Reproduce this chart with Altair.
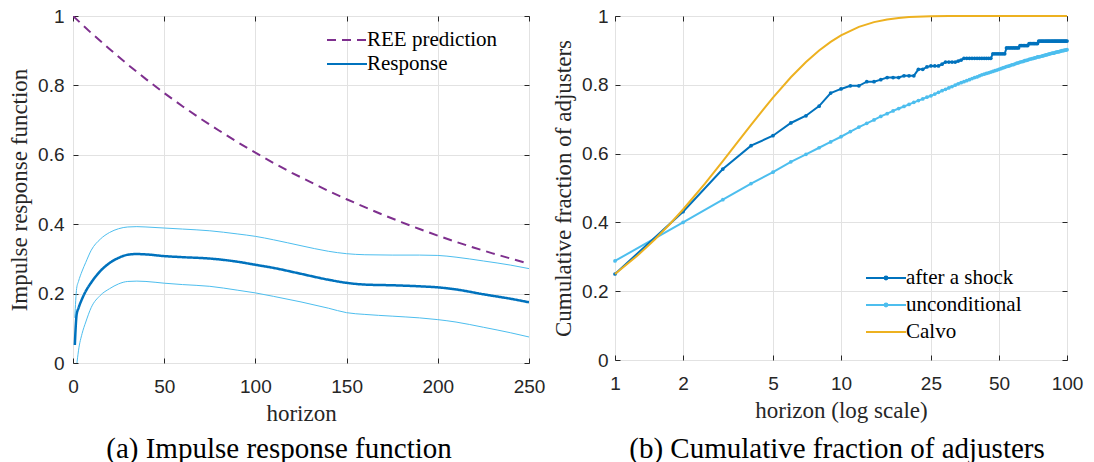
import altair as alt
import pandas as pd

# ---------------- data: panel (a) ----------------
h_ree = [0, 10, 20, 30, 40, 50, 60, 70, 80, 90, 100, 110, 120, 130, 140, 150,
         160, 170, 180, 190, 200, 210, 220, 230, 240, 250]
ree = [1.0, 0.951, 0.905, 0.860, 0.818, 0.778, 0.740, 0.704, 0.670, 0.637, 0.606,
       0.576, 0.548, 0.522, 0.496, 0.472, 0.449, 0.427, 0.406, 0.386, 0.367,
       0.349, 0.332, 0.316, 0.301, 0.286]

h_irf = [1, 2, 3, 5, 7, 10, 15, 20, 25, 30, 35, 40, 50, 60, 75, 90, 100, 110,
         125, 140, 150, 160, 175, 190, 200, 210, 225, 240, 250]
resp = [0.052, 0.140, 0.158, 0.185, 0.207, 0.232, 0.265, 0.288, 0.303, 0.312,
        0.314, 0.313, 0.308, 0.305, 0.301, 0.292, 0.283, 0.274, 0.257, 0.240,
        0.231, 0.226, 0.224, 0.221, 0.218, 0.212, 0.198, 0.185, 0.175]
upper = [0.130, 0.215, 0.235, 0.265, 0.290, 0.325, 0.357, 0.376, 0.387, 0.392,
         0.393, 0.392, 0.389, 0.386, 0.381, 0.372, 0.365, 0.355, 0.338, 0.322,
         0.315, 0.312, 0.311, 0.311, 0.310, 0.305, 0.294, 0.282, 0.272]
lower = [-0.080, -0.010, 0.035, 0.085, 0.118, 0.160, 0.195, 0.214, 0.228, 0.235,
         0.236, 0.235, 0.230, 0.226, 0.221, 0.210, 0.202, 0.192, 0.176, 0.158,
         0.145, 0.140, 0.135, 0.130, 0.125, 0.118, 0.103, 0.087, 0.075]

# ---------------- data: panel (b) ----------------
h_int = list(range(1, 101))
after = [0.250, 0.431, 0.555, 0.623, 0.652, 0.689, 0.710, 0.738, 0.776, 0.788,
         0.797, 0.797, 0.809, 0.809, 0.815, 0.821, 0.821, 0.821, 0.826, 0.826,
         0.826, 0.845, 0.845, 0.852, 0.855, 0.855, 0.855, 0.860, 0.866, 0.866,
         0.866, 0.866, 0.869, 0.872, 0.877, 0.877, 0.877, 0.877, 0.877, 0.877,
         0.877, 0.877, 0.877, 0.877, 0.877, 0.877, 0.890, 0.890, 0.890, 0.890,
         0.890, 0.890, 0.890, 0.907, 0.907, 0.907, 0.907, 0.907, 0.907, 0.907,
         0.907, 0.914, 0.914, 0.914, 0.914, 0.914, 0.914, 0.920, 0.920, 0.920,
         0.920, 0.920, 0.920, 0.920, 0.927, 0.927, 0.927, 0.927, 0.927, 0.927,
         0.927, 0.927, 0.927, 0.927, 0.927, 0.927, 0.927, 0.927, 0.927, 0.927,
         0.927, 0.927, 0.927, 0.927, 0.927, 0.927, 0.927, 0.927, 0.927, 0.927]
uncond = [0.288, 0.400, 0.466, 0.513, 0.546, 0.576, 0.598, 0.617, 0.634, 0.649,
          0.664, 0.677, 0.688, 0.698, 0.708, 0.716, 0.724, 0.731, 0.737, 0.743,
          0.749, 0.754, 0.759, 0.764, 0.768, 0.773, 0.778, 0.783, 0.787, 0.791,
          0.795, 0.799, 0.803, 0.806, 0.809, 0.812, 0.815, 0.818, 0.821, 0.823,
          0.826, 0.829, 0.831, 0.833, 0.835, 0.837, 0.839, 0.841, 0.843, 0.845,
          0.847, 0.849, 0.851, 0.853, 0.854, 0.856, 0.858, 0.859, 0.861, 0.863,
          0.864, 0.866, 0.867, 0.868, 0.870, 0.871, 0.872, 0.874, 0.875, 0.876,
          0.877, 0.878, 0.879, 0.881, 0.881, 0.882, 0.883, 0.884, 0.885, 0.886,
          0.887, 0.888, 0.889, 0.890, 0.891, 0.892, 0.892, 0.893, 0.894, 0.895,
          0.896, 0.896, 0.897, 0.898, 0.899, 0.899, 0.900, 0.901, 0.901, 0.902]
h_calvo = [1, 1.25, 1.5, 1.75, 2, 2.5, 3, 3.5, 4, 4.5, 5, 6, 7, 8, 9, 10, 12, 14,
           16, 18, 20, 25, 30, 40, 60, 100]
calvo = [0.250, 0.302, 0.3505, 0.3955, 0.4375, 0.5129, 0.5781, 0.6346, 0.6836,
         0.7260, 0.7627, 0.8220, 0.8665, 0.8999, 0.9249, 0.9437, 0.9683, 0.9822,
         0.9900, 0.9944, 0.9968, 0.9992, 0.9998, 1.0, 1.0, 1.0]

x_ticks_a = [0, 50, 100, 150, 200, 250]
x_ticks_b = [1, 2, 5, 10, 25, 50, 100]
y_ticks = [0, 0.2, 0.4, 0.6, 0.8, 1]

L_SERIES = ["REE prediction", "Response"]
R_SERIES = ["after a shock", "unconditional", "Calvo"]

# ---------------- style ----------------
SERIF = "Liberation Serif"
SANS = "Liberation Sans"
AX = "#262626"
GRID = "#e2e2e2"
BLUE = "#0072BD"
LBLUE = "#4DBEEE"
ORANGE = "#EDB120"
PURPLE = "#7E2F8E"

df_ree = pd.DataFrame({"h": h_ree, "value": ree, "series": "REE prediction"})
df_resp = pd.DataFrame({"h": h_irf, "value": resp, "series": "Response"})
df_band = pd.concat([
    pd.DataFrame({"h": h_irf, "value": upper, "band": "upper"}),
    pd.DataFrame({"h": h_irf, "value": lower, "band": "lower"}),
])

df_after = pd.DataFrame({"h": h_int, "value": after, "series": "after a shock"})
df_unc = pd.DataFrame({"h": h_int, "value": uncond, "series": "unconditional"})
df_calvo = pd.DataFrame({"h": h_calvo, "value": calvo, "series": "Calvo"})

BASE = dict(labelFontSize=19, labelColor=AX, tickColor=AX,
            titleFontSize=23, titleFontWeight="normal",
            titleColor=AX, gridColor=GRID, gridWidth=1)


def main_x(values, title, scale):
    return alt.X("h:Q", scale=scale, title=title,
                 axis=alt.Axis(values=values, format="d", orient="bottom", offset=-5,
                               tickSize=5, domain=False, grid=True, labelPadding=14,
                               titlePadding=6, labelFlush=False, labelOverlap=False,
                               labelFont=SANS))


def main_y(title, pad):
    return alt.Y("value:Q", scale=alt.Scale(domain=[0, 1], nice=False), title=title,
                 axis=alt.Axis(values=y_ticks, format="~g", orient="left", offset=-5,
                               tickSize=5, domain=False, grid=True, labelPadding=pad,
                               titlePadding=6, labelFlush=False, labelFont=SANS))


def tick_x(values, scale):
    return alt.X("h:Q", scale=scale, title=None,
                 axis=alt.Axis(values=values, orient="top", offset=-5, tickSize=5,
                               labels=False, domain=False, grid=False, tickColor=AX))


def tick_y():
    return alt.Y("value:Q", scale=alt.Scale(domain=[0, 1], nice=False), title=None,
                 axis=alt.Axis(values=y_ticks, orient="right", offset=-5, tickSize=5,
                               labels=False, domain=False, grid=False, tickColor=AX))


# ---------------- panel (a) ----------------
xs_a = alt.Scale(domain=[0, 250], nice=False)
P_LINE = "M-2,0L2,0"
P_DOT = "M-2,0L2,0M-0.14,0A0.14,0.14,0,1,0,0.14,0A0.14,0.14,0,1,0,-0.14,0"
leg_a = alt.Legend(title=None, orient="none", legendX=263, legendY=13,
                   symbolType=P_LINE, symbolSize=400, symbolStrokeWidth=2,
                   labelFontSize=21, labelColor="black",
                   labelOffset=9, rowPadding=3, padding=0, labelLimit=300)
col_a = alt.Color("series:N", scale=alt.Scale(domain=L_SERIES, range=[PURPLE, BLUE]),
                  legend=leg_a)
dash_a = alt.StrokeDash("series:N",
                        scale=alt.Scale(domain=L_SERIES, range=[[9, 6], [1, 0]]),
                        legend=leg_a)

bands = alt.Chart(df_band).mark_line(color=LBLUE, strokeWidth=1, clip=True,
                                     interpolate="monotone").encode(
    x=tick_x(x_ticks_a, xs_a), y=tick_y(), detail="band:N")
ree_line = alt.Chart(df_ree).mark_line(strokeWidth=2, clip=True).encode(
    x=main_x(x_ticks_a, "horizon", xs_a),
    y=main_y("Impulse response function", 9),
    color=col_a, strokeDash=dash_a)
resp_line = alt.Chart(df_resp).mark_line(strokeWidth=2.5, clip=True,
                                         interpolate="monotone").encode(
    x=alt.X("h:Q", scale=xs_a, axis=None),
    y=alt.Y("value:Q", axis=None),
    color=col_a, strokeDash=dash_a)

panel_a = alt.layer(bands, ree_line, resp_line).resolve_axis(
    x="independent", y="independent").properties(
    width=456, height=347,
    title=alt.TitleParams("(a) Impulse response function", orient="bottom",
                          frame="group", dx=-22, offset=10, font=SERIF,
                          fontSize=29, fontWeight="normal", color="black"))

# ---------------- panel (b) ----------------
xs_b = alt.Scale(type="log", domain=[1, 100], nice=False)
leg_b = alt.Legend(title=None, orient="none", legendX=260, legendY=251,
                   symbolSize=400, symbolStrokeWidth=2,
                   labelFontSize=21, labelColor="black",
                   labelOffset=9, rowPadding=6, padding=0, labelLimit=300)
col_b = alt.Color("series:N",
                  scale=alt.Scale(domain=R_SERIES, range=[BLUE, LBLUE, ORANGE]),
                  legend=leg_b)
shape_b = alt.Shape("series:N",
                    scale=alt.Scale(domain=R_SERIES, range=[P_DOT, P_DOT, P_LINE]),
                    legend=leg_b)

noax_x = alt.X("h:Q", scale=xs_b, axis=None)
noax_y = alt.Y("value:Q", axis=None)

after_line = alt.Chart(df_after).mark_line(strokeWidth=2).encode(
    x=main_x(x_ticks_b, "horizon (log scale)", xs_b),
    y=main_y("Cumulative fraction of adjusters", 7),
    color=col_b)
after_pts = alt.Chart(df_after).mark_point(filled=True, size=14, opacity=1,
                                           shape="circle").encode(
    x=noax_x, y=noax_y, color=col_b)
unc_line = alt.Chart(df_unc).mark_line(strokeWidth=2).encode(
    x=noax_x, y=noax_y, color=col_b)
unc_pts = alt.Chart(df_unc).mark_point(filled=True, size=14, opacity=1,
                                       shape="circle").encode(
    x=noax_x, y=noax_y, color=col_b)
calvo_line = alt.Chart(df_calvo).mark_line(strokeWidth=2).encode(
    x=noax_x, y=noax_y, color=col_b)
legend_layer = alt.Chart(pd.concat([df_after, df_unc, df_calvo])).transform_filter(
    "datum.h < 0").mark_point(filled=False, opacity=1, strokeWidth=2).encode(
    x=tick_x(x_ticks_b, xs_b), y=tick_y(), color=col_b, shape=shape_b)

panel_b = alt.layer(legend_layer, unc_line, unc_pts, after_line, after_pts,
                    calvo_line).resolve_axis(
    x="independent", y="independent").properties(
    width=452, height=344,
    title=alt.TitleParams("(b) Cumulative fraction of adjusters", orient="bottom",
                          frame="group", dx=-4, offset=13, font=SERIF,
                          fontSize=29, fontWeight="normal", color="black"))

chart = alt.hconcat(panel_a, panel_b, spacing=6).resolve_scale(
    color="independent", strokeDash="independent", shape="independent"
).resolve_legend(
    color="independent", strokeDash="independent", shape="independent"
).properties(
    padding={"left": 0, "top": -2, "right": 0, "bottom": 0},
    config=alt.Config(
        view=alt.ViewConfig(stroke="#404040", strokeWidth=1),
        axis=alt.AxisConfig(**BASE),
        style={"guide-title": {"font": SERIF}, "guide-label": {"font": SERIF}},
    ),
)

chart.save("out.html", embed_options={"renderer": "svg", "actions": False})
